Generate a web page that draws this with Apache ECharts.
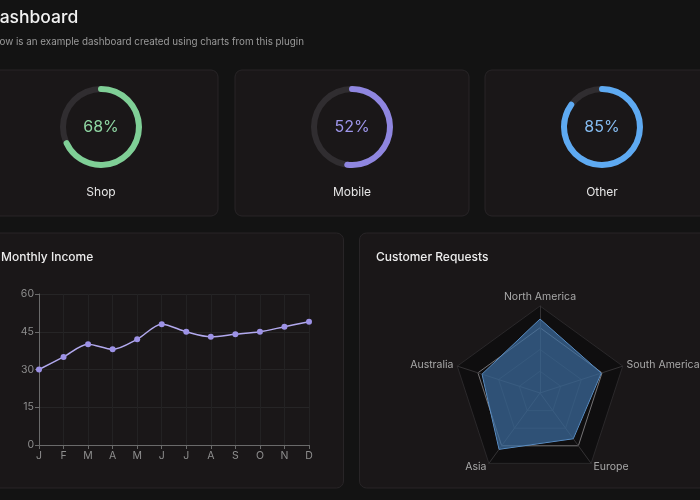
<!DOCTYPE html>
<html>
<head>
<meta charset="utf-8">
<script src="https://cdn.jsdelivr.net/npm/echarts@6/dist/echarts.min.js"></script>
<style>
html,body{margin:0;padding:0;background:#131313;}
#c{width:700px;height:500px;}
</style>
</head>
<body>
<div id="c"></div>
<script>
// ---- data ----
const gaugeNames = ['Shop', 'Mobile', 'Other'];
const gaugeValues = [68, 52, 85];
const months = ['J','F','M','A','M','J','J','A','S','O','N','D'];
const income = [30, 35, 40, 38, 42, 48, 45, 43, 44, 45, 47, 49];
const yTicks = [0, 15, 30, 45, 60];
const regions = ['North America', 'Australia', 'Asia', 'Europe', 'South America'];
const requests = [85, 70, 80, 65, 74];

// ---- styles ----
const FONT = 'Inter, "Noto Sans", sans-serif';
const gaugeColors = ['#7fcf96', '#8f86e0', '#5eaaf2'];
const gaugeTextColors = ['#8fd6a3', '#9e96ea', '#86bdf2'];
const gaugeCenters = [[101, 127], [352, 127], [602, 127]];
const cardFill = '#1a1718';
const cardStroke = '#282527';

function card(x, y, w, h) {
  return {type:'rect', z:0, shape:{x:x, y:y, width:w, height:h, r:7},
    style:{fill:cardFill, stroke:cardStroke, lineWidth:1}};
}
function txt(x, y, t, size, color, weight) {
  return {type:'text', z:100, x:x, y:y,
    style:{text:t, fontSize:size, fill:color, fontFamily:FONT, fontWeight:weight||'normal', textVerticalAlign:'middle'}};
}

const chart = echarts.init(document.getElementById('c'));

const gaugeSeries = gaugeValues.map((v, i) => ({
  type:'gauge',
  center: gaugeCenters[i],
  radius: 41,
  startAngle: 90, endAngle: -270,
  min: 0, max: 100,
  pointer:{show:false},
  progress:{show:true, roundCap:true, width:6, itemStyle:{color:gaugeColors[i]}},
  axisLine:{roundCap:true, lineStyle:{width:6, color:[[1,'#302d30']]}},
  axisTick:{show:false}, splitLine:{show:false}, axisLabel:{show:false},
  anchor:{show:false},
  title:{show:true, offsetCenter:[0,'160%'], color:'#e6e6e6', fontSize:12, fontFamily:FONT},
  detail:{valueAnimation:false, offsetCenter:[0,0], formatter:'{value}%', color:gaugeTextColors[i], fontSize:16, fontWeight:'normal', fontFamily:FONT},
  data:[{value:v, name:gaugeNames[i]}]
}));

chart.setOption({
  backgroundColor:'#131313',
  animation:false,
  graphic:[
    card(-16, 70, 234, 146),
    card(235, 70, 234, 146),
    card(485, 70, 234, 146),
    card(-16, 233, 359.5, 255),
    card(359.5, 233, 359.5, 255),
    txt(-13, 18, 'Dashboard', 17.5, '#f2f2f2', 500),
    txt(-15, 42, 'Below is an example dashboard created using charts from this plugin', 9.8, '#9a9a9a'),
    txt(1, 257, 'Monthly Income', 12, '#ececec', 500),
    txt(376, 257, 'Customer Requests', 12, '#ececec', 500)
  ],
  grid:{left:39, right:391, top:294, bottom:55},
  xAxis:{
    type:'category', data:months, boundaryGap:false,
    axisLine:{lineStyle:{color:'#6a6a6a'}},
    axisTick:{show:true, alignWithLabel:true, length:4, lineStyle:{color:'#6a6a6a'}},
    axisLabel:{color:'#8e8e8e', fontSize:10.5, fontFamily:FONT, margin:5},
    splitLine:{show:true, lineStyle:{color:'#232223'}}
  },
  yAxis:{
    type:'value', min:yTicks[0], max:yTicks[yTicks.length-1], interval:yTicks[1]-yTicks[0],
    axisLine:{show:true, lineStyle:{color:'#6a6a6a'}},
    axisTick:{show:true, length:4, lineStyle:{color:'#6a6a6a'}},
    axisLabel:{color:'#8e8e8e', fontSize:10.5, fontFamily:FONT, margin:5},
    splitLine:{show:true, lineStyle:{color:'#262526'}}
  },
  radar:{
    center:[540, 393], radius:87,
    startAngle:90, splitNumber:4,
    shape:'polygon',
    indicator: regions.map(n => ({name:n, max:100})),
    axisName:{color:'#a8a8a8', fontSize:10.5, fontFamily:FONT},
    nameGap:4,
    axisLine:{lineStyle:{color:'#343234'}},
    splitLine:{lineStyle:{color:['#2a282a','#2a282a','#2a282a','#767476']}},
    splitArea:{show:true, areaStyle:{color:['#0f0e0f']}}
  },
  series:[
    ...gaugeSeries,
    {
      type:'line', data:income, smooth:0.3,
      symbol:'circle', symbolSize:6,
      lineStyle:{color:'#b2a9ee', width:1.5},
      itemStyle:{color:'#9d92e6'}
    },
    {
      type:'radar', symbol:'none', z:5,
      lineStyle:{color:'#6a9fd8', width:1},
      areaStyle:{color:'rgba(60,108,158,0.72)', opacity:1},
      data:[{value:requests, name:'Requests'}]
    }
  ]
});
</script>
</body>
</html>
